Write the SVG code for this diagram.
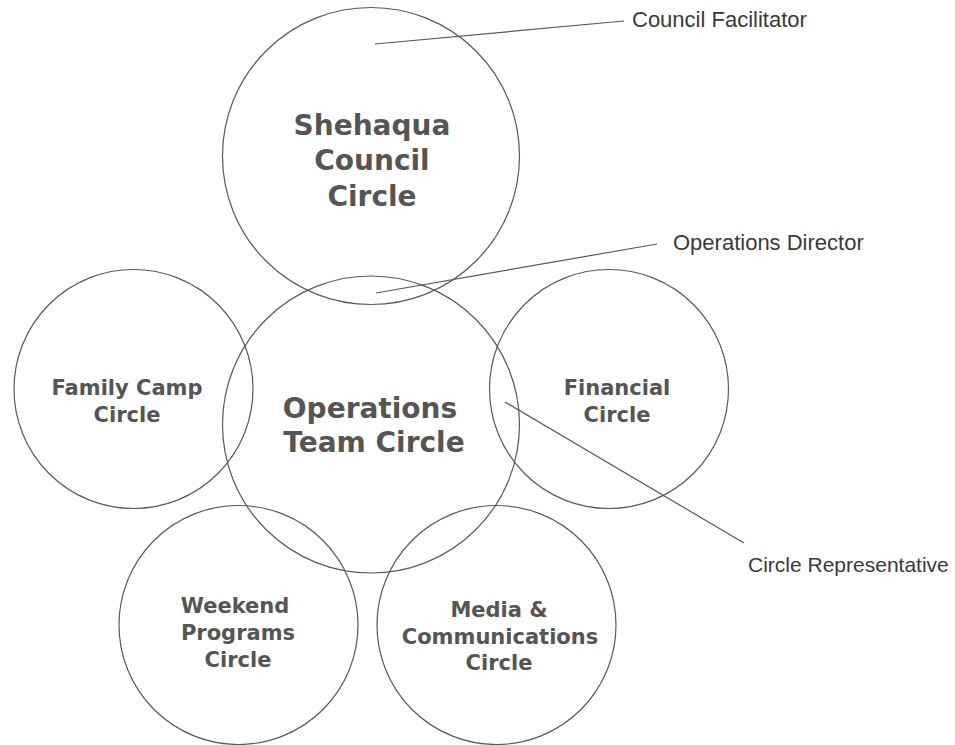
<svg xmlns="http://www.w3.org/2000/svg" width="955" height="745" viewBox="0 0 955 745">
<style>
.c{fill:none;stroke:#5a5a5a;stroke-width:1.2}
.l{stroke:#5a5a5a;stroke-width:1.2}
.b{font-family:"DejaVu Sans",sans-serif;font-weight:bold;fill:#555;text-anchor:middle}
.big{font-size:28px}
.sm{font-size:21px}
.r{font-family:"Liberation Sans",sans-serif;font-size:22px;fill:#3a3a3a}
</style>
<rect width="955" height="745" fill="#fff"/>
<g id="council">
<circle class="c" cx="371" cy="156" r="148.5"/>
<text class="b big"><tspan x="372" y="135">Shehaqua</tspan><tspan x="372" y="170">Council</tspan><tspan x="372" y="206">Circle</tspan></text>
</g>
<g id="operations">
<circle class="c" cx="371" cy="424.5" r="148.5"/>
<text class="b big"><tspan x="370" y="418">Operations</tspan><tspan x="374" y="452">Team Circle</tspan></text>
</g>
<g id="family">
<circle class="c" cx="133.5" cy="389" r="119.5"/>
<text class="b sm"><tspan x="127" y="395">Family Camp</tspan><tspan x="127" y="422">Circle</tspan></text>
</g>
<g id="financial">
<circle class="c" cx="609" cy="389" r="119.5"/>
<text class="b sm"><tspan x="617" y="395">Financial</tspan><tspan x="617" y="422">Circle</tspan></text>
</g>
<g id="weekend">
<circle class="c" cx="238.5" cy="625" r="119.5"/>
<text class="b sm"><tspan x="235" y="613">Weekend</tspan><tspan x="238" y="640">Programs</tspan><tspan x="238" y="667">Circle</tspan></text>
</g>
<g id="media">
<circle class="c" cx="496.5" cy="625" r="119.5"/>
<text class="b sm"><tspan x="499" y="617">Media &amp;</tspan><tspan x="500" y="644">Communications</tspan><tspan x="499" y="670">Circle</tspan></text>
</g>
<g id="connectors">
<line class="l" x1="375" y1="44" x2="624" y2="21"/>
<line class="l" x1="376" y1="293" x2="657" y2="244"/>
<line class="l" x1="505" y1="402" x2="744" y2="543"/>
</g>
<g id="labels">
<text class="r" x="632" y="27">Council Facilitator</text>
<text class="r" x="673" y="250">Operations Director</text>
<text class="r" x="748" y="572" style="font-size:21px">Circle Representative</text>
</g>
</svg>
